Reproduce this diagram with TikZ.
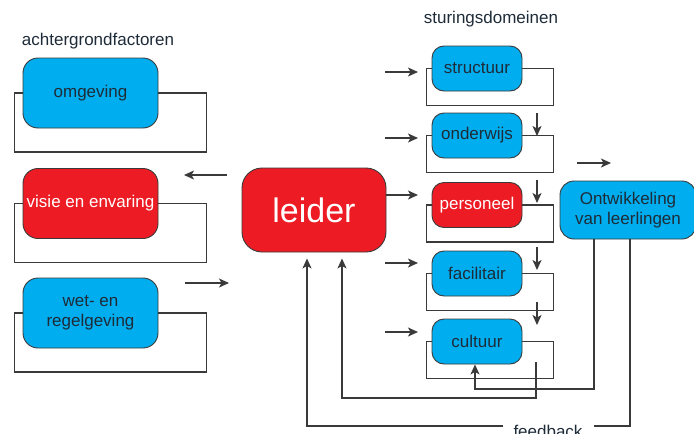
\documentclass[tikz,border=0pt]{standalone}
\usepackage{fontspec}
\setmainfont{Liberation Sans}
\usetikzlibrary{arrows.meta}
\definecolor{kblauw}{HTML}{00AEEF}
\definecolor{krood}{HTML}{ED1C24}
\definecolor{kdonker}{HTML}{1E2B38}
\definecolor{klijn}{HTML}{3A3A3A}
\tikzset{
  blok/.style={draw=klijn, line width=0.9pt, rounded corners=15pt, minimum width=135pt, minimum height=70pt, inner xsep=2pt, align=center, font=\fontsize{17}{20}\selectfont},
  blauw/.style={blok, fill=kblauw, text=kdonker},
  rood/.style={blok, fill=krood, text=white},
  klein/.style={minimum width=90pt, minimum height=45pt, rounded corners=12pt},
  lus/.style={draw=klijn, line width=1.2pt},
  pijl/.style={lus, -{Stealth[length=10pt,width=9pt,inset=2.5pt]}},
  kop/.style={text=kdonker, font=\fontsize{17}{20}\selectfont},
}
\begin{document}
\begin{tikzpicture}[x=1pt,y=-1pt]
\useasboundingbox (0,0) rectangle (694,434);
% achtergrondfactoren
\node[kop] (kopA) at (98,41){achtergrondfactoren};
\node[blauw] (omg) at (90.5,93){omgeving};
\node[rood] (vis) at (90.5,203.5){visie en envaring};
\node[blauw] (wet) at (90.5,313){wet- en\\regelgeving};
\foreach \n in {omg,vis,wet}
  \draw[lus](\n.west) -- ++(-8,0) -- ++(0,59) -- ++(192,0) -- ++(0,-59) -- (\n.east);

% leider
\node[rood, minimum width=144pt, minimum height=84pt, rounded corners=20pt, font=\fontsize{34}{40}\selectfont] (ldr) at (314,210){leider};
\coordinate (vis-in) at (227,175);
\coordinate (wet-in) at (185,283);
\draw[pijl](vis-in) -- ++(-43,0);
\draw[pijl](wet-in) -- ++(44,0);

% sturingsdomeinen
\node[kop] (kopB) at (491,19){sturingsdomeinen};
\node[blauw, klein] (str) at (477,68.5){structuur};
\node[blauw, klein] (ond) at (477,135.5){onderwijs};
\node[rood, klein] (per) at (477,205){personeel};
\node[blauw, klein] (fac) at (477,273.5){facilitair};
\node[blauw, klein] (cul) at (477,341.5){cultuur};
\foreach \n in {str,ond,per,fac,cul}
  \draw[lus](\n.west) -- ++(-5,0) -- ++(0,37) -- ++(127,0) -- ++(0,-37) -- (\n.east);
\foreach \n/\y in {str/72,ond/138,fac/263,cul/332}{
  \coordinate (\n-in) at (385,\y);
  \draw[pijl](\n-in) -- ++(33,0);
}
\coordinate (per-in) at (0,195);
\draw[pijl](ldr.east |- per-in) -- (418,195);
\foreach \a/\b [count=\i] in {113/136,180/203,247/270,302/325}{
  \coordinate (neer\i) at (537,\a);
  \draw[pijl](neer\i) -- (537,\b);
}

% ontwikkeling
\node[blauw, minimum width=136pt, minimum height=58pt, rounded corners=14pt] (ont) at (628,210){Ontwikkeling\\van leerlingen};
\coordinate (ont-in) at (577,163);
\draw[pijl](ont-in) -- ++(34,0);

% feedback
\coordinate (fbA) at (475,389);
\draw[pijl]([xshift=-34pt]ont.south) |- (fbA) -- (fbA |- cul.south);
\coordinate (fbB1) at (594,426);
\coordinate (fbB2) at (503,426);
\coordinate (fbB3) at (307,426);
\draw[lus]([xshift=2pt]ont.south) |- (fbB1);
\draw[pijl, shorten >=6pt](fbB2) -- (fbB3) -- (fbB3 |- ldr.south);
\coordinate (fbC) at (536,362);
\coordinate (fbD) at (342,398);
\draw[pijl, shorten >=6pt](fbC) |- (fbD) -- (fbD |- ldr.south);
\node[kop, anchor=base] (fb) at (548,437){feedback};

\end{tikzpicture}
\end{document}
